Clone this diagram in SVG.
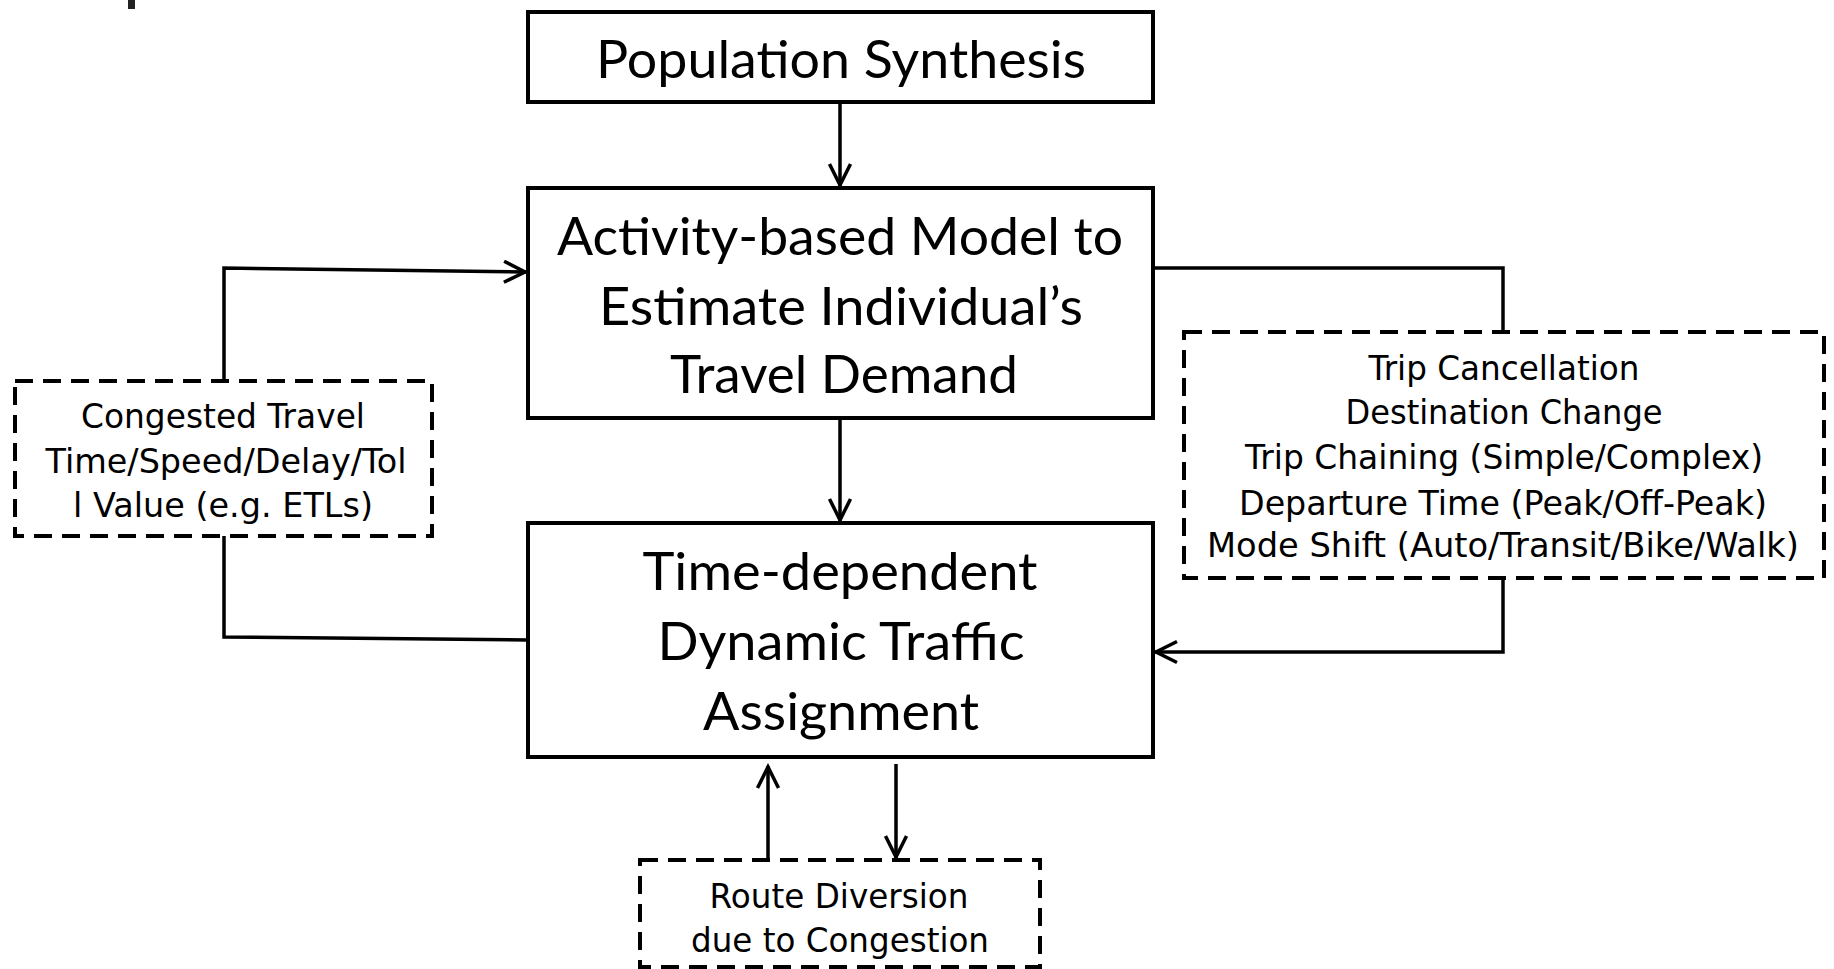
<svg xmlns="http://www.w3.org/2000/svg" width="1834" height="969" viewBox="0 0 1834 969">
<style>
.box{fill:#fff;stroke:#000;stroke-width:4}
.dbox{fill:#fff;stroke:#000;stroke-width:4;stroke-dasharray:18 10}
.big{font-family:Lato,"Open Sans",sans-serif;font-size:52px;fill:#000;text-anchor:middle}
.small{font-family:"DejaVu Sans","Liberation Sans",sans-serif;font-size:33px;fill:#000;text-anchor:middle}
.conn{fill:none;stroke:#000;stroke-width:3.5}
</style>
<defs>
<marker id="arr" viewBox="-26 -14 30 28" refX="1" refY="0" markerWidth="30" markerHeight="28" markerUnits="userSpaceOnUse" orient="auto">
<path d="M-21,-10.5 L0,0 L-21,10.5" fill="none" stroke="#000" stroke-width="3.5" stroke-linejoin="miter"/>
</marker>
</defs>
<rect x="128" y="0" width="7" height="9" fill="#222"/>
<g id="connectors">
<path class="conn" d="M840,102 L840,186" marker-end="url(#arr)"/>
<path class="conn" d="M840,418 L840,521" marker-end="url(#arr)"/>
<path class="conn" d="M224,381 L224,268 L526,272" marker-end="url(#arr)"/>
<path class="conn" d="M224,536 L224,637 L528,640"/>
<path class="conn" d="M1153,268 L1503,268 L1503,332"/>
<path class="conn" d="M1503,578 L1503,652 L1155,652" marker-end="url(#arr)"/>
<path class="conn" d="M768,860 L768,766" marker-end="url(#arr)"/>
<path class="conn" d="M896,764 L896,858" marker-end="url(#arr)"/>
</g>
<g id="population">
<rect class="box" x="528" y="12" width="625" height="90"/>
<text class="big" x="841" y="78" textLength="490" lengthAdjust="spacingAndGlyphs">Population Synthesis</text>
</g>
<g id="activity">
<rect class="box" x="528" y="188" width="625" height="230"/>
<text class="big" x="840" y="255" textLength="566" lengthAdjust="spacingAndGlyphs">Activity-based Model to</text>
<text class="big" x="841" y="325" textLength="484" lengthAdjust="spacingAndGlyphs">Estimate Individual’s</text>
<text class="big" x="844" y="393" textLength="348" lengthAdjust="spacingAndGlyphs">Travel Demand</text>
</g>
<g id="dta">
<rect class="box" x="528" y="523" width="625" height="234"/>
<text class="big" x="840" y="590" textLength="395" lengthAdjust="spacingAndGlyphs">Time-dependent</text>
<text class="big" x="841" y="660" textLength="367" lengthAdjust="spacingAndGlyphs">Dynamic Traffic</text>
<text class="big" x="841" y="730" textLength="276" lengthAdjust="spacingAndGlyphs">Assignment</text>
</g>
<g id="congested">
<rect class="dbox" x="15" y="381" width="417" height="155"/>
<text class="small" x="223" y="428" textLength="284" lengthAdjust="spacingAndGlyphs">Congested Travel</text>
<text class="small" x="226" y="473" textLength="361" lengthAdjust="spacingAndGlyphs">Time/Speed/Delay/Tol</text>
<text class="small" x="223" y="517" textLength="300" lengthAdjust="spacingAndGlyphs">l Value (e.g. ETLs)</text>
</g>
<g id="choices">
<rect class="dbox" x="1184" y="332" width="640" height="246"/>
<text class="small" x="1504" y="380" textLength="271" lengthAdjust="spacingAndGlyphs">Trip Cancellation</text>
<text class="small" x="1504" y="424" textLength="317" lengthAdjust="spacingAndGlyphs">Destination Change</text>
<text class="small" x="1504" y="469" textLength="518" lengthAdjust="spacingAndGlyphs">Trip Chaining (Simple/Complex)</text>
<text class="small" x="1503" y="515" textLength="528" lengthAdjust="spacingAndGlyphs">Departure Time (Peak/Off-Peak)</text>
<text class="small" x="1503" y="557" textLength="592" lengthAdjust="spacingAndGlyphs">Mode Shift (Auto/Transit/Bike/Walk)</text>
</g>
<g id="route">
<rect class="dbox" x="640" y="860" width="400" height="107"/>
<text class="small" x="839" y="908" textLength="259" lengthAdjust="spacingAndGlyphs">Route Diversion</text>
<text class="small" x="840" y="952" textLength="298" lengthAdjust="spacingAndGlyphs">due to Congestion</text>
</g>
</svg>
